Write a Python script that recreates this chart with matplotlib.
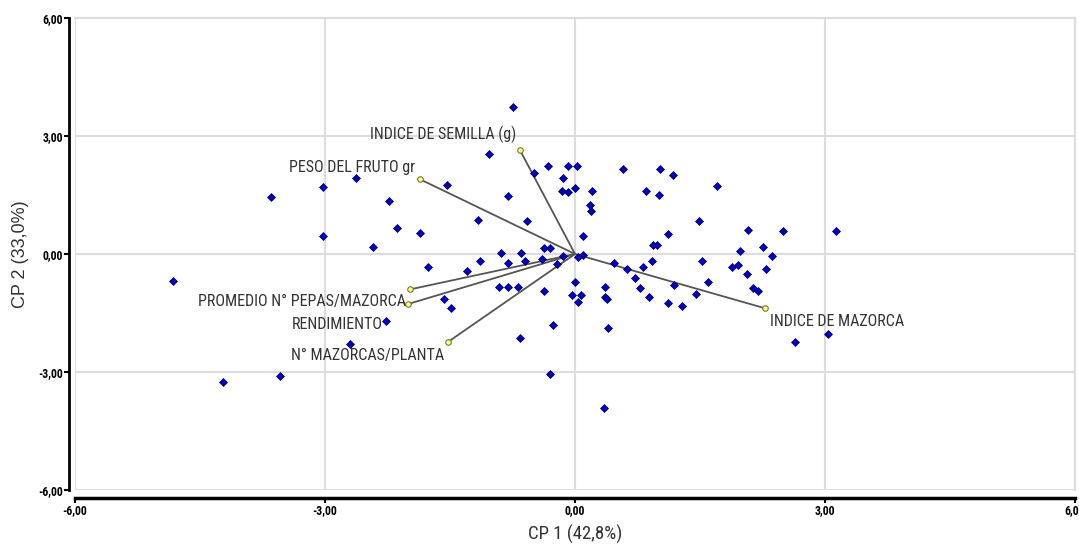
import numpy as np
import matplotlib.pyplot as plt
from matplotlib import font_manager
from matplotlib.ticker import FuncFormatter

# scores (CP 1, CP 2)
cp1 = [-4.82, -3.65, -3.03, -2.63, -3.02, -2.43, -0.75, -1.03, -0.33, -0.08,
       0.02, -0.49, -0.14, -0.16, -0.08, 0.00, 0.20, 0.18, 0.19, 0.09,
       0.58, 1.02, 1.17, 0.85, 1.01, 1.12, 0.93, 0.98, -1.54, -2.23,
       -0.81, -2.14, -1.86, -1.16, -0.58, -0.89, -0.65, -0.37, -0.30, -0.14,
       0.04, 0.09, -1.77, -1.30, -1.14, -0.81, -0.60, -0.40, -0.22, 0.47,
       0.62, 0.81, 0.92, 0.72, 0.00, 0.36, 0.78, 1.19, -0.91, -0.81,
       -0.68, -0.37, -1.57, -1.49, -2.27, -0.04, 0.07, 0.03, 0.36, 0.38,
       0.39, -0.26, -0.66, -0.30, 0.35, 0.89, 1.11, 1.28, -4.23, -3.54,
       -2.70, 1.70, 1.49, 2.07, 2.50, 3.13, 1.52, 1.98, 2.26, 2.36,
       1.88, 1.96, 2.06, 2.29, 1.59, 2.14, 2.19, 1.45, 3.04, 2.64]
cp2 = [-0.69, 1.44, 1.71, 1.94, 0.47, 0.19, 3.74, 2.55, 2.25, 2.25,
       2.25, 2.05, 1.94, 1.60, 1.57, 1.67, 1.60, 1.25, 1.09, 0.47,
       2.15, 2.15, 2.00, 1.60, 1.49, 0.51, 0.23, 0.23, 1.75, 1.35,
       1.47, 0.66, 0.53, 0.86, 0.84, 0.03, 0.03, 0.16, 0.16, -0.05,
       -0.07, -0.02, -0.32, -0.42, -0.17, -0.22, -0.19, -0.12, -0.26, -0.24,
       -0.37, -0.32, -0.17, -0.60, -0.70, -0.83, -0.87, -0.79, -0.85, -0.85,
       -0.85, -0.95, -1.14, -1.38, -1.70, -1.03, -1.03, -1.21, -1.10, -1.14,
       -1.89, -1.81, -2.14, -3.05, -3.92, -1.10, -1.25, -1.31, -3.25, -3.09,
       -2.30, 1.72, 0.85, 0.62, 0.59, 0.59, -0.19, 0.08, 0.17, -0.04,
       -0.32, -0.29, -0.50, -0.37, -0.70, -0.87, -0.95, -1.02, -2.04, -2.24]

# variable vectors
var_names = ["INDICE DE SEMILLA (g)", "PESO DEL FRUTO gr", "PROMEDIO N° PEPAS/MAZORCA",
             "RENDIMIENTO", "N° MAZORCAS/PLANTA", "INDICE DE MAZORCA"]
var_x = [-0.66, -1.86, -1.98, -2.00, -1.52, 2.28]
var_y = [2.64, 1.90, -0.90, -1.27, -2.23, -1.38]
# label anchor points
lab_x = [-0.70, -1.92, -2.03, -2.31, -1.57, 2.34]
lab_y = [3.03, 2.21, -1.22, -1.80, -2.57, -1.72]
lab_ha = ["right", "right", "right", "right", "right", "left"]

ticks = [-6, -3, 0, 3, 6]

# narrow font if there is one, else Arial-like
installed = {f.name for f in font_manager.fontManager.ttflist}
narrow = 'Liberation Sans'
for cand in ['Liberation Sans Narrow', 'Roboto Condensed', 'Open Sans Condensed', 'DejaVu Sans Condensed']:
    if cand in installed:
        narrow = cand
        break
is_narrow = narrow != 'Liberation Sans'

fig = plt.figure(figsize=(10.79, 5.46), dpi=100)
ax = fig.add_axes([75 / 1079, 56 / 546, 1000 / 1079, 472 / 546])

ax.set_xlim(-6, 6)
ax.set_ylim(-6, 6)
ax.set_xticks(ticks)
ax.set_yticks(ticks)
fmt = FuncFormatter(lambda v, p: f"{v:.2f}".replace('.', ','))
ax.xaxis.set_major_formatter(fmt)
ax.yaxis.set_major_formatter(fmt)
ax.grid(True, color='#dddddd', lw=1.5, zorder=0)
ax.set_axisbelow(True)

for s in ['top', 'right']:
    ax.spines[s].set_color('#dddddd')
    ax.spines[s].set_linewidth(1.5)
ax.spines['left'].set_position(('outward', 4))
ax.spines['bottom'].set_position(('outward', 6))
ax.spines['left'].set_linewidth(2)
ax.spines['bottom'].set_linewidth(2.5)
ax.tick_params(axis='both', length=3.5, width=1.5, direction='out', pad=1)
for lab in ax.get_xticklabels() + ax.get_yticklabels():
    lab.set_family([narrow, 'DejaVu Sans'])
    lab.set_fontweight('bold')
    lab.set_fontsize(8.5 if is_narrow else 7.5)

for vx, vy in zip(var_x, var_y):
    ax.plot([0, vx], [0, vy], color='#555555', lw=1.3, zorder=2)
ax.plot(var_x, var_y, 'o', ms=4, mfc='#ffff88', mec='#777733', mew=0.8, ls='none', zorder=4)

ax.plot(cp1, cp2, 'D', ms=4.2, mfc='#0000bb', mec='#000055', mew=0.5, ls='none', zorder=3)

for name, tx, ty, ha in zip(var_names, lab_x, lab_y, lab_ha):
    ax.text(tx, ty, name, ha=ha, va='center', fontsize=11.5 if is_narrow else 9.5,
            family=[narrow, 'DejaVu Sans'], color='#333333', zorder=5)

ax.set_xlabel("CP 1 (42,8%)", fontsize=13.5 if is_narrow else 11,
              family=[narrow, 'DejaVu Sans'], color='#333333', labelpad=5)
ax.set_ylabel("CP 2 (33,0%)", fontsize=13, family=['Liberation Sans', 'DejaVu Sans'],
              color='#333333', labelpad=7)

fig.savefig('out.png', dpi=100)
